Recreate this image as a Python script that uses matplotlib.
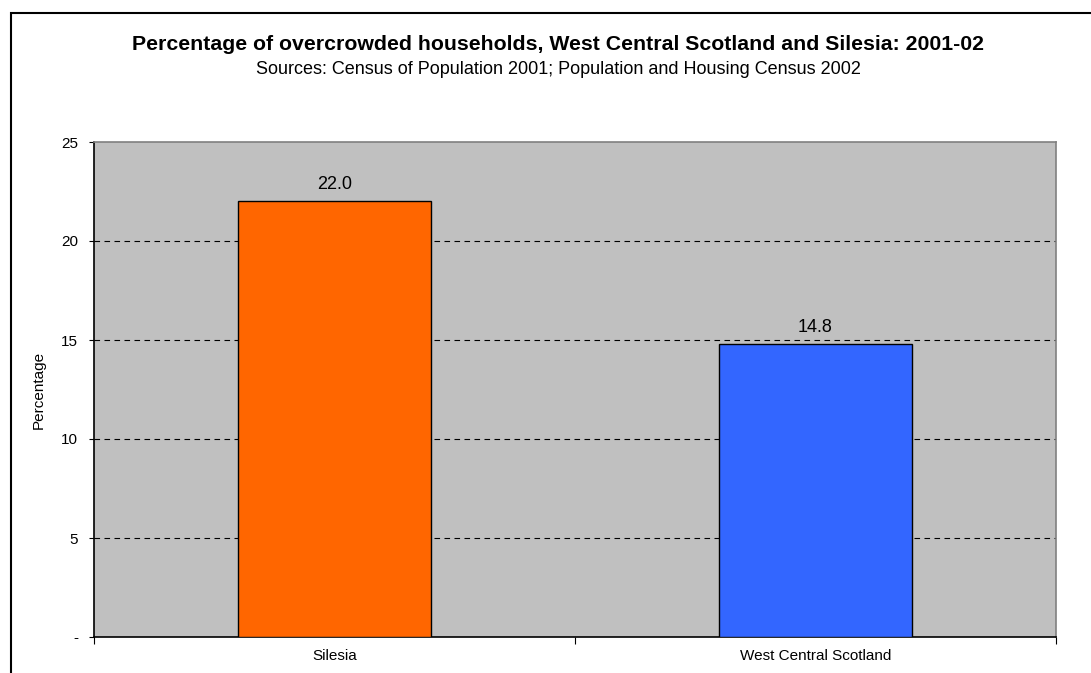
import matplotlib
matplotlib.use("Agg")
import matplotlib.pyplot as plt
from matplotlib.patches import Rectangle

categories = ["Silesia", "West Central Scotland"]
values = [22.0, 14.8]
colors = ["#FF6600", "#3366FF"]
yticks = [0, 5, 10, 15, 20, 25]
ytick_labels = ["-", "5", "10", "15", "20", "25"]

plt.rcParams['font.family'] = ['Liberation Sans', 'DejaVu Sans']

W, H = 1091, 673
fig = plt.figure(figsize=(W / 100, H / 100), dpi=100)
fig.patch.set_facecolor("white")

# outer chart border
fig.patches.append(Rectangle((11 / W, -0.05), 1.2, 1 - 13 / H + 0.05,
                             transform=fig.transFigure, fill=False,
                             edgecolor="black", linewidth=1.5, zorder=0))

left, right, top, bottom = 94, 1056, 142, 637
ax = fig.add_axes([left / W, 1 - bottom / H, (right - left) / W, (bottom - top) / H])
ax.set_facecolor("#C0C0C0")

x = list(range(len(categories)))
ax.bar(x, values, width=0.4, color=colors, edgecolor="black", linewidth=1, zorder=3)
for xi, v in zip(x, values):
    ax.annotate(f"{v:.1f}", (xi, v), xytext=(0, 6), textcoords="offset points",
                ha="center", va="bottom", fontsize=13)

ax.set_xlim(-0.5, len(categories) - 0.5)
ax.set_ylim(0, 25)
ax.set_yticks(yticks)
ax.set_yticklabels(ytick_labels, fontsize=11)
ax.set_xticks([-0.5, 0.5, 1.5], minor=False)
ax.set_xticklabels(["", "", ""])
ax.set_xticks(x, minor=True)
ax.set_xticklabels(categories, minor=True, fontsize=11)
ax.tick_params(axis="x", which="minor", length=0, pad=9)
ax.tick_params(axis="x", which="major", length=5, direction="out", color="black")
ax.tick_params(axis="y", length=3.5, direction="out", color="black", pad=8)

for yv in yticks[1:-1]:
    ax.axhline(yv, color="black", linestyle=(0, (5, 4)), linewidth=0.8, zorder=1)

ax.spines["left"].set_color("black")
ax.spines["bottom"].set_color("black")
ax.spines["top"].set_color("#808080")
ax.spines["right"].set_color("#808080")
for s in ax.spines.values():
    s.set_linewidth(1.2)

ax.set_ylabel("Percentage", fontsize=11, labelpad=11)

fig.text(558.5 / W, 1 - 45 / H,
         "Percentage of overcrowded households, West Central Scotland and Silesia: 2001-02",
         ha="center", va="center", fontsize=15.3, fontweight="bold")
fig.text(558.5 / W, 1 - 70 / H,
         "Sources: Census of Population 2001; Population and Housing Census 2002",
         ha="center", va="center", fontsize=13)

fig.savefig("out.png", dpi=100)
